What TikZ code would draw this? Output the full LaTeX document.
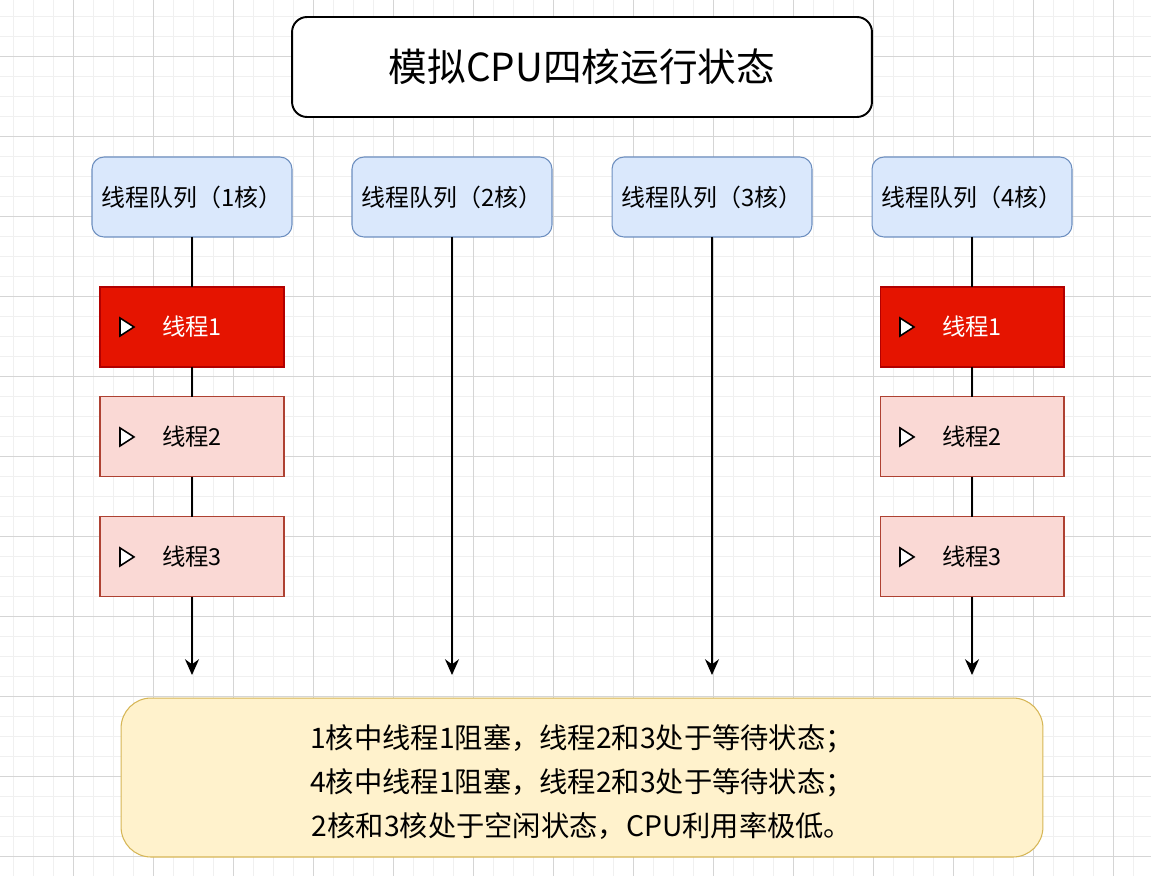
\documentclass[tikz,border=0pt]{standalone}
\usepackage{fontspec}
\setmainfont{Noto Sans CJK SC}
\usepackage{tikz}
\usetikzlibrary{positioning,arrows.meta}
\usepackage{xcolor}

\definecolor{queuefill}{HTML}{DAE8FC}
\definecolor{queueline}{HTML}{6C8EBF}
\definecolor{runfill}{HTML}{E51400}
\definecolor{runline}{HTML}{B20000}
\definecolor{waitfill}{HTML}{FAD9D5}
\definecolor{waitline}{HTML}{AE4132}
\definecolor{notefill}{HTML}{FFF2CC}
\definecolor{noteline}{HTML}{D6B656}
\definecolor{gridminor}{HTML}{F0F0F0}
\definecolor{gridmajor}{HTML}{D5D5D5}

\begin{document}
\begin{tikzpicture}[
    x = 0.02cm,
    y = -0.02cm,
    > = {Stealth[length=9pt,width=8pt]},
    node distance = 1cm,
    outer sep = 0pt,
    title/.style={draw, line width=1.1pt, rounded corners=0.3cm, fill=white,
        minimum width=11.6cm, minimum height=2cm, font=\fontsize{22}{26}\selectfont},
    queue/.style={draw=queueline, fill=queuefill, line width=0.6pt, rounded corners=0.24cm,
        minimum width=4cm, minimum height=1.6cm, font=\fontsize{13.6}{16}\selectfont},
    running/.style={draw=runline, fill=runfill, text=white, line width=0.6pt,
        minimum width=3.68cm, minimum height=1.6cm, font=\fontsize{13.3}{15}\selectfont},
    waiting/.style={draw=waitline, fill=waitfill, line width=0.6pt,
        minimum width=3.68cm, minimum height=1.6cm, font=\fontsize{13.3}{15}\selectfont},
    note/.style={draw=noteline, fill=notefill, line width=0.6pt, rounded corners=0.6cm,
        minimum width=18.44cm, minimum height=3.18cm, align=center, text height=69pt,
        font=\fontsize{16.1}{25}\selectfont},
    icon/.style={draw, line width=0.9pt, fill=white, line join=miter},
    link/.style={line width=0.9pt}
]
    % background grid
    \fill[white] (0,0) rectangle (1151,876);
    \useasboundingbox (0,0) rectangle (1151,876);
    \foreach \gx in {13.3,33.3,...,1151} \draw[gridminor, line width=0.5pt] (\gx,0) -- (\gx,876);
    \foreach \gy in {16.7,36.7,...,876} \draw[gridminor, line width=0.5pt] (0,\gy) -- (1151,\gy);
    \foreach \gx in {73.3,153.3,...,1151} \draw[gridmajor, line width=0.6pt] (\gx,0) -- (\gx,876);
    \foreach \gy in {56.7,136.7,...,876} \draw[gridmajor, line width=0.6pt] (0,\gy) -- (1151,\gy);

    \node[title] (cpu) at (582,67) {模拟CPU四核运行状态};

    \node[queue] (q1) at (192,197) {线程队列（1核）};
    \node[queue] (q2) at (452,197) {线程队列（2核）};
    \node[queue] (q3) at (712,197) {线程队列（3核）};
    \node[queue] (q4) at (972,197) {线程队列（4核）};

    \node[running, below=of q1] (t11) {线程1};
    \node[waiting, below=0.6cm of t11] (t12) {线程2};
    \node[waiting, below=0.8cm of t12] (t13) {线程3};
    \node[running, below=of q4] (t41) {线程1};
    \node[waiting, below=0.6cm of t41] (t42) {线程2};
    \node[waiting, below=0.8cm of t42] (t43) {线程3};

    \foreach \t in {t11,t12,t13,t41,t42,t43}
        \draw[icon] ([shift={(-72,-9)}]\t.center) -- ++(0,18) -- ++(14,-9) -- cycle;

    \coordinate (e1) at (192,675);
    \coordinate (e2) at (452,675);
    \coordinate (e3) at (712,675);
    \coordinate (e4) at (972,675);

    \draw[link] (q1) -- (t11) (t11) -- (t12) (t12) -- (t13);
    \draw[link] (q4) -- (t41) (t41) -- (t42) (t42) -- (t43);
    \draw[link, ->] (t13) -- (e1);
    \draw[link, ->] (q2) -- (e2);
    \draw[link, ->] (q3) -- (e3);
    \draw[link, ->] (t43) -- (e4);

    \node[note] (sum) at (582,777.5) {1核中线程1阻塞，线程2和3处于等待状态；\\
        4核中线程1阻塞，线程2和3处于等待状态；\\
        2核和3核处于空闲状态，CPU利用率极低。};
\end{tikzpicture}
\end{document}
